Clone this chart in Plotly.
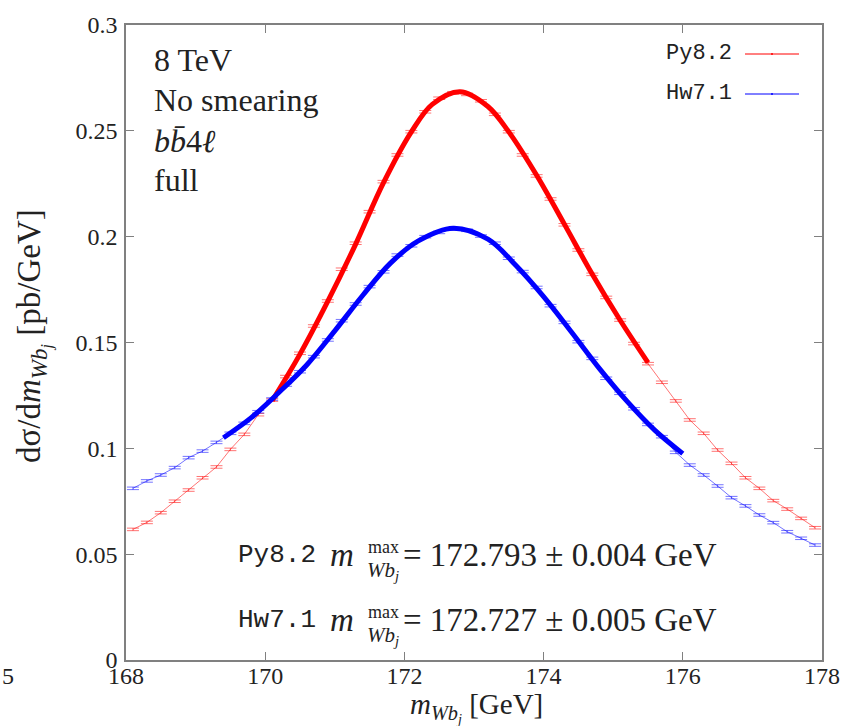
import plotly.graph_objects as go

# ---------------- data ----------------
bin_centers = [round(168.1 + 0.2 * i, 1) for i in range(50)]

py82_hist = [0.0617, 0.0650, 0.0696, 0.0750, 0.0803, 0.0861, 0.0912, 0.0995, 0.1066, 0.1159,
             0.1228, 0.1339, 0.1449, 0.1578, 0.1696, 0.1846, 0.1969, 0.2118, 0.2260, 0.2386,
             0.2496, 0.2590, 0.2654, 0.2680, 0.2672, 0.2642, 0.2578, 0.2496, 0.2386, 0.2287,
             0.2178, 0.2056, 0.1937, 0.1822, 0.1713, 0.1606, 0.1495, 0.1400, 0.1312, 0.1224,
             0.1134, 0.1071, 0.0992, 0.0929, 0.0861, 0.0811, 0.0753, 0.0713, 0.0669, 0.0625]

hw71_hist = [0.0811, 0.0846, 0.0874, 0.0909, 0.0956, 0.0987, 0.1028, 0.1071, 0.1118, 0.1173,
             0.1233, 0.1299, 0.1362, 0.1433, 0.1512, 0.1603, 0.1682, 0.1764, 0.1834, 0.1913,
             0.1957, 0.2000, 0.2020, 0.2036, 0.2030, 0.2003, 0.1969, 0.1898, 0.1835, 0.1760,
             0.1674, 0.1595, 0.1504, 0.1425, 0.1331, 0.1260, 0.1187, 0.1113, 0.1055, 0.0981,
             0.0921, 0.0874, 0.0822, 0.0767, 0.0728, 0.0685, 0.0649, 0.0606, 0.0575, 0.0543]

hist_err = [0.0006] * 50

py82_fit_x = [170.1, 170.5, 170.9, 171.3, 171.7, 172.1, 172.4, 172.8, 173.2, 173.5, 173.9, 174.3, 174.7, 175.1, 175.5]
py82_fit_y = [0.1225, 0.1445, 0.1695, 0.1965, 0.2255, 0.2495, 0.2625, 0.2685, 0.2615, 0.2495, 0.2290, 0.2058, 0.1822, 0.1605, 0.1405]

hw71_fit_x = [169.4, 169.8, 170.2, 170.6, 171.0, 171.4, 171.8, 172.2, 172.7, 173.2, 173.6, 174.0, 174.4, 174.8, 175.2, 175.6, 176.0]
hw71_fit_y = [0.1050, 0.1145, 0.1265, 0.1395, 0.1555, 0.1722, 0.1875, 0.1980, 0.2040, 0.1988, 0.1865, 0.1717, 0.1550, 0.1378, 0.1222, 0.1085, 0.0975]

x_ticks = [168, 170, 172, 174, 176, 178]
y_ticks = [0, 0.05, 0.1, 0.15, 0.2, 0.25, 0.3]
y_ticktext = ["0", "0.05", "0.1", "0.15", "0.2", "0.25", "0.3"]

info_lines = ["8 TeV", "No smearing", "<i>b</i><i>b\u0304</i>4<i>\u2113</i>", "full"]
series_names = ["Py8.2", "Hw7.1"]
mass_values = ["= 172.793 \u00b1 0.004 GeV", "= 172.727 \u00b1 0.005 GeV"]

# ---------------- figure ----------------
W, H = 841, 726
L, R, T, B = 126, 19, 25, 66
pw, ph = W - L - R, H - T - B

def px(xp):
    return (xp - L) / pw

def py(yp):
    return (H - B - yp) / ph

SERIF = "Liberation Serif"
MONO = "Liberation Mono"
TXT = "#222"
RED_T = "rgba(255,0,0,0.55)"
BLUE_T = "rgba(0,0,255,0.55)"

fig = go.Figure()

for yvals, col in [(py82_hist, RED_T), (hw71_hist, BLUE_T)]:
    fig.add_trace(go.Scatter(
        x=bin_centers, y=yvals, mode="lines",
        line=dict(color=col, width=1),
        error_y=dict(type="data", array=hist_err, visible=True, color=col, thickness=1, width=6),
        showlegend=False, hoverinfo="skip"))

fig.add_trace(go.Scatter(x=py82_fit_x, y=py82_fit_y, mode="lines",
                         line=dict(color="#ff0000", width=5, shape="spline"), showlegend=False))
fig.add_trace(go.Scatter(x=hw71_fit_x, y=hw71_fit_y, mode="lines",
                         line=dict(color="#0000ff", width=5, shape="spline"), showlegend=False))

axis_common = dict(showline=True, linecolor="#808080", linewidth=1.5, mirror="ticks",
                   ticks="inside", ticklen=8, tickcolor="#808080", tickwidth=1,
                   showgrid=False, zeroline=False,
                   tickfont=dict(family=SERIF, size=24, color=TXT))

fig.update_layout(
    width=W, height=H,
    margin=dict(l=L, r=R, t=T, b=B, autoexpand=False),
    plot_bgcolor="white", paper_bgcolor="white",
    xaxis=dict(range=[168, 178], tickvals=x_ticks, ticktext=[str(v) for v in x_ticks],
               ticklabelstandoff=-7, **axis_common),
    yaxis=dict(range=[0, 0.3], tickvals=y_ticks, ticktext=y_ticktext, ticklabelstandoff=2, **axis_common),
)

ann = []
# top-left info text
info_y = [60, 100, 141, 180]
for txt, yy in zip(info_lines, info_y):
    ann.append(dict(text=txt, x=px(152), y=py(yy), xanchor="left", yanchor="middle",
                    font=dict(family=SERIF, size=32, color=TXT)))

# legend (text left, line right)
leg_y = [54, 94]
leg_cols = ["#ff0000", "#0000ff"]
shapes = []
for name, yy, col in zip(series_names, leg_y, leg_cols):
    ann.append(dict(text=name, x=px(734), y=py(yy - 1), xanchor="right", yanchor="middle",
                    font=dict(family=MONO, size=22, color=TXT)))
    shapes.append(dict(type="line", xref="paper", yref="paper", x0=px(745), x1=px(799),
                       y0=py(yy), y1=py(yy), line=dict(color=col, width=1)))
    shapes.append(dict(type="circle", xref="paper", yref="paper", x0=px(771), x1=px(773),
                       y0=py(yy + 1), y1=py(yy - 1), fillcolor=col, line=dict(width=0)))

# bottom mass results
for i, (name, val) in enumerate(zip(series_names, mass_values)):
    yc = 555 + 65 * i
    ann.append(dict(text=name, x=px(236), y=py(yc), xanchor="left", yanchor="middle",
                    font=dict(family=MONO, size=26, color=TXT)))
    ann.append(dict(text="<i>m</i>", x=px(328), y=py(yc), xanchor="left", yanchor="middle",
                    font=dict(family=SERIF, size=33, color=TXT)))
    ann.append(dict(text="max", x=px(366), y=py(yc - 8), xanchor="left", yanchor="middle",
                    font=dict(family=SERIF, size=18, color=TXT)))
    ann.append(dict(text="<i>Wb<sub>j</sub></i>", x=px(365), y=py(yc + 16), xanchor="left", yanchor="middle",
                    font=dict(family=SERIF, size=21, color=TXT)))
    ann.append(dict(text=val, x=px(401), y=py(yc), xanchor="left", yanchor="middle",
                    font=dict(family=SERIF, size=33, color=TXT)))

# axis titles
ann.append(dict(text="<i>m</i><sub><i>Wb<sub>j</sub></i></sub> [GeV]", x=px(476), y=py(707),
                xanchor="center", yanchor="middle", font=dict(family=SERIF, size=29, color=TXT)))
ann.append(dict(text="d\u03c3/d<i>m</i><sub><i>Wb<sub>j</sub></i></sub> [pb/GeV]", x=px(34), y=py(336),
                xanchor="center", yanchor="middle", textangle=-90,
                font=dict(family=SERIF, size=33, color=TXT)))
# clipped stray label at the bottom-left edge
ann.append(dict(text="5", x=px(0), y=py(676), xanchor="left", yanchor="middle",
                font=dict(family=SERIF, size=24, color=TXT)))

for a in ann:
    a.setdefault("xref", "paper")
    a.setdefault("yref", "paper")
    a["showarrow"] = False

fig.update_layout(annotations=ann, shapes=shapes)

fig.write_html("out.html", config={"displayModeBar": False},
               post_script="document.body.style.margin='0';document.body.style.overflow='hidden';")
